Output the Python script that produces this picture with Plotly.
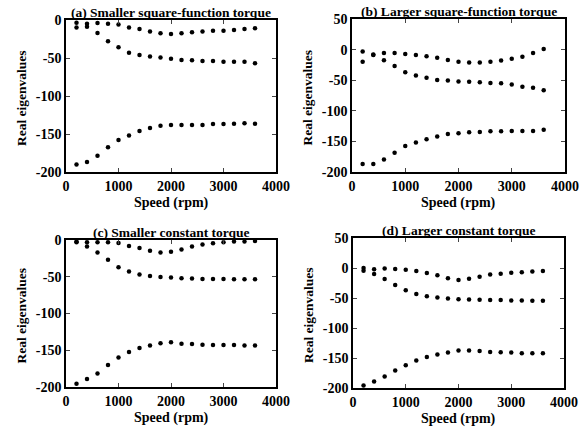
import plotly.graph_objects as go

speed = [200, 400, 600, 800, 1000, 1200, 1400, 1600, 1800, 2000,
         2200, 2400, 2600, 2800, 3000, 3200, 3400, 3600]

# (a) smaller square-function torque
a_top = [-3.5, -5, -4, -5, -6, -10, -12, -15, -17.5, -18.5, -17.5, -16, -15, -14, -14, -13, -12, -11]
a_mid = [-10, -9, -17, -28, -36, -43, -46, -48, -49.5, -51, -52.5, -53, -54, -54, -55, -55, -55, -57]
a_low = [-190, -187, -178.5, -167.5, -158, -152, -146, -142, -139, -138, -138, -138, -138, -137, -137, -136.5, -136, -136.5]

# (b) larger square-function torque
b_top = [-3, -8, -5.5, -5.5, -7, -9, -11, -13.5, -17, -20, -21, -21, -20, -18, -15, -11.5, -5.5, 1]
b_mid = [-20, -9, -17.5, -27, -37, -42.5, -46, -49.5, -50.5, -52, -52.5, -53.5, -54.5, -55, -57, -60.5, -62.5, -66.5]
b_low = [-187, -187, -179.5, -168.5, -157.5, -152, -146.5, -142, -138, -136.5, -135, -134.5, -133.5, -133.5, -133, -133, -133, -131]

# (c) smaller constant torque
c_top = [-2, -3, -3, -3, -4, -8, -11, -14.5, -17, -16, -13, -9, -6, -4.5, -3, -2, -2, -1.5]
c_mid = [-3, -9, -17, -27, -37, -43, -47, -49, -50.5, -51, -52, -52.5, -53, -53, -53, -53.5, -53.5, -53.5]
c_low = [-195.5, -189, -181.5, -170, -160, -152.5, -147, -143.5, -140.5, -139, -141, -141.5, -142.5, -143, -143, -143, -143.5, -143.5]

# (d) larger constant torque
d_top = [0, -2, -1, -1.5, -3, -5, -8.5, -12, -17, -20, -18, -14.5, -11, -9.5, -8, -7, -6, -5]
d_mid = [-4.5, -10, -18.5, -28.5, -37, -43.5, -47, -49, -51, -52, -52.5, -53, -53.5, -53.5, -54, -54, -54.5, -54.5]
d_low = [-196, -189, -181, -171, -162, -154, -148.5, -144, -141, -137.5, -137.5, -138.5, -140, -140.5, -141, -142, -142, -142]

titles = ['(a) Smaller square-function torque', '(b) Larger square-function torque',
          '(c) Smaller constant torque', '(d) Larger constant torque']
x_ticks = [0, 1000, 2000, 3000, 4000]
y_ticks_short = [-200, -150, -100, -50, 0]
y_ticks_long = [-200, -150, -100, -50, 0, 50]
x_label = 'Speed (rpm)'
y_label = 'Real eigenvalues'

panels = [(a_top, a_mid, a_low), (b_top, b_mid, b_low),
          (c_top, c_mid, c_low), (d_top, d_mid, d_low)]
y_tick_sets = [y_ticks_short, y_ticks_long, y_ticks_short, y_ticks_long]

W, H = 583, 432
# plot boxes in pixels: x0, x1, ytop, ybottom
boxes = [(66, 276, 20, 172), (352, 565, 19, 172),
         (66, 276, 240, 387), (353, 564, 238, 388)]

FONT = 'Liberation Serif'


def bold(v):
    return '<b>%s</b>' % v


def txt(size):
    return dict(family=FONT, size=size, color='black')


fig = go.Figure()
for i, (series, box) in enumerate(zip(panels, boxes)):
    n = '' if i == 0 else str(i + 1)
    for s in series:
        fig.add_trace(go.Scatter(
            x=speed, y=s, mode='markers', xaxis='x' + n, yaxis='y' + n,
            marker=dict(color='black', size=4.5, symbol='circle'),
            showlegend=False, cliponaxis=False))
    x0, x1, yt, yb = box
    yticks = y_tick_sets[i]
    fig.layout['xaxis' + n] = dict(
        domain=[x0 / W, x1 / W], anchor='y' + n, range=[x_ticks[0], x_ticks[-1]],
        tickvals=x_ticks, ticktext=[bold(v) for v in x_ticks],
        ticks='inside', ticklen=4, automargin=False,
        showline=True, linecolor='black', linewidth=1.5, mirror='ticks',
        showgrid=False, zeroline=False, tickfont=txt(14))
    fig.layout['yaxis' + n] = dict(
        domain=[1 - yb / H, 1 - yt / H], anchor='x' + n, range=[yticks[0], yticks[-1]],
        tickvals=yticks, ticktext=[bold(v) for v in yticks],
        ticks='inside', ticklen=4, automargin=False,
        showline=True, linecolor='black', linewidth=1.5, mirror='ticks',
        showgrid=False, zeroline=False, tickfont=txt(14))
    xc = (x0 + x1) / 2
    # panel title
    fig.add_annotation(
        text=bold(titles[i]), xref='paper', yref='paper',
        x=xc / W, y=1 - (yt + 2) / H, xanchor='center', yanchor='bottom',
        showarrow=False, font=txt(13.5))
    # x axis title
    fig.add_annotation(
        text=bold(x_label), xref='paper', yref='paper',
        x=xc / W, y=1 - (yb + 31) / H, xanchor='center', yanchor='middle',
        showarrow=False, font=txt(14))
    # y axis title
    fig.add_annotation(
        text=bold(y_label), xref='paper', yref='paper', textangle=-90,
        x=(x0 - 45) / W, y=1 - ((yt + yb) / 2 + 2) / H, xanchor='center', yanchor='middle',
        showarrow=False, font=txt(13.5))

fig.update_layout(
    width=W, height=H, margin=dict(l=0, r=0, t=0, b=0),
    paper_bgcolor='white', plot_bgcolor='white')

# drop the browser's default 8px body margin so the figure fills the window
fig.write_html("out.html", config={'displayModeBar': False},
               post_script="document.body.style.margin='0';")
